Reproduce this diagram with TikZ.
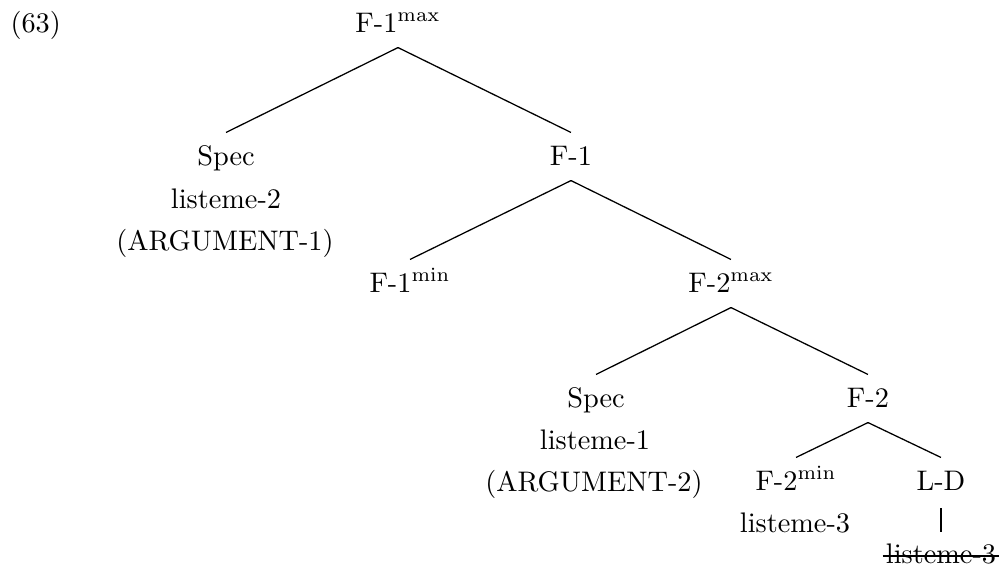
\documentclass[tikz,border=0pt]{standalone}
\begin{document}
\begin{tikzpicture}[x=0.3534pt,y=-0.3534pt,
  lab/.style={anchor=base,inner xsep=0pt,inner ysep=0pt,font=\normalsize},
  tnode/.style={anchor=base,inner xsep=0pt,inner ysep=5.3pt,text height=6pt,text depth=0pt},
  branch/.style={line width=0.45pt},
  strike/.style={line width=1pt}]
\useasboundingbox (0,0) rectangle (1001,567);
% example number
\node[lab,anchor=base west] (num) at (10,32) {(63)};
% tree nodes
\node[tnode] (f1max) at (398,32) {F-1$^{\mathrm{max}}$};
\node[tnode] (spec1) at (226,165) {Spec};
\node[lab] (lst2) at (226,208) {listeme-2};
\node[lab] (arg1) at (225,250) {(ARGUMENT-1)};
\node[tnode] (f1) at (571,165) {F-1};
\node[tnode] (f1min) at (410,292) {F-1$^{\mathrm{min}}$};
\node[tnode] (f2max) at (731,292) {F-2$^{\mathrm{max}}$};
\node[tnode] (spec2) at (596,407) {Spec};
\node[lab] (lst1) at (595,449) {listeme-1};
\node[lab] (arg2) at (594,491) {(ARGUMENT-2)};
\node[tnode] (f2) at (868,407) {F-2};
\node[tnode] (f2min) at (796,490) {F-2$^{\mathrm{min}}$};
\node[lab] (lst3) at (795,532) {listeme-3};
\node[tnode] (ld) at (941,490) {L-D};
\node[tnode,inner xsep=1pt] (lst3s) at (941,563) {listeme-3};
% branches
\draw[branch] (f1max.south) -- (spec1.north);
\draw[branch] (f1max.south) -- (f1.north);
\draw[branch] (f1.south) -- (f1min.north);
\draw[branch] (f1.south) -- (f2max.north);
\draw[branch] (f2max.south) -- (spec2.north);
\draw[branch] (f2max.south) -- (f2.north);
\draw[branch] (f2.south) -- (f2min.north);
\draw[branch] (f2.south) -- (ld.north);
\draw[branch,shorten <=1pt,shorten >=-0.5pt] (ld.south) -- (lst3s.north);
% strike-through
\draw[strike] ([yshift=2.5pt]lst3s.base west) -- ([yshift=2.5pt]lst3s.base east);
\end{tikzpicture}
\end{document}
